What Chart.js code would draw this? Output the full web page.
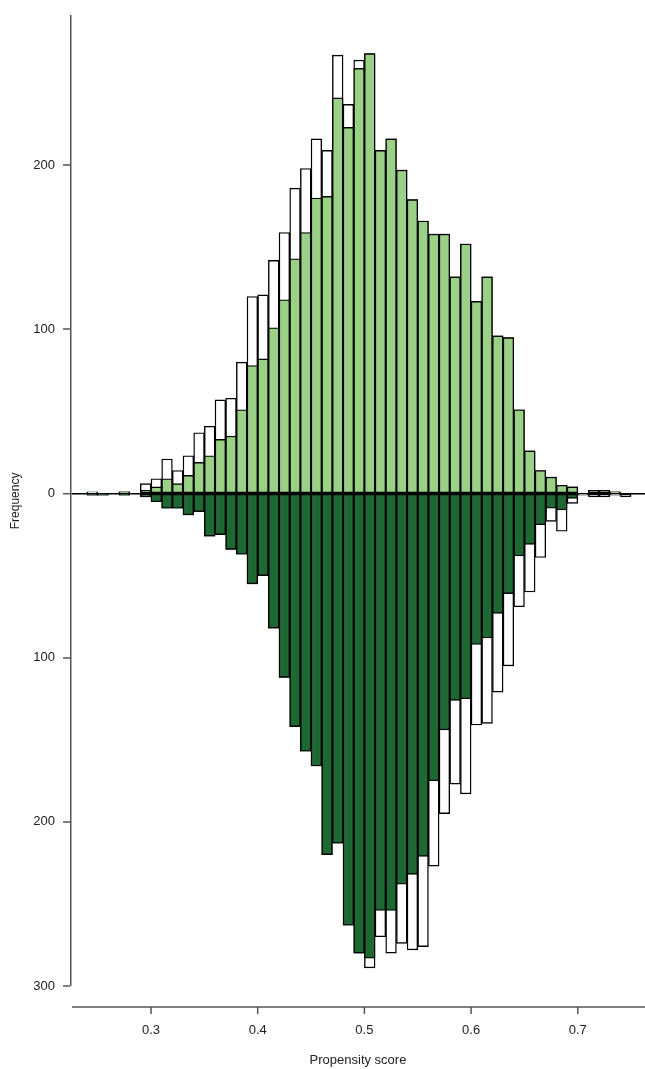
<!DOCTYPE html>
<html>
<head>
<meta charset="utf-8">
<script src="https://cdn.jsdelivr.net/npm/chart.js@4/dist/chart.umd.min.js"></script>
<style>
  html, body { margin: 0; padding: 0; background: #fff; }
  #wrap { width: 645px; height: 1069px; }
</style>
</head>
<body>
<div id="wrap"><canvas id="chart" width="645" height="1069"></canvas></div>
<script>
// bins de 0.01 (borda esquerda)
const binStarts = [
  0.24, 0.25, 0.26, 0.27, 0.28, 0.29, 0.30, 0.31, 0.32, 0.33,
  0.34, 0.35, 0.36, 0.37, 0.38, 0.39, 0.40, 0.41, 0.42, 0.43,
  0.44, 0.45, 0.46, 0.47, 0.48, 0.49, 0.50, 0.51, 0.52, 0.53,
  0.54, 0.55, 0.56, 0.57, 0.58, 0.59, 0.60, 0.61, 0.62, 0.63,
  0.64, 0.65, 0.66, 0.67, 0.68, 0.69, 0.70, 0.71, 0.72, 0.73,
  0.74
];

// metade de cima: todos (branco) e pareados (verde claro)
const topAll = [
  1, 0, 0, 1, 0, 6, 9, 21, 14, 23,
  37, 41, 57, 58, 80, 120, 121, 142, 159, 186,
  198, 216, 209, 267, 237, 264, 268, 209, 216, 197,
  179, 166, 158, 158, 132, 152, 117, 132, 96, 95,
  51, 26, 14, 10, 5, 4, 0, 2, 2, 1,
  0
];
const topMatched = [
  0, 0, 0, 1, 0, 2, 4, 9, 6, 11,
  19, 23, 33, 35, 51, 78, 82, 101, 118, 143,
  159, 180, 181, 241, 223, 259, 268, 209, 216, 197,
  179, 166, 158, 158, 132, 152, 117, 132, 96, 95,
  51, 26, 14, 10, 5, 4, 0, 2, 2, 1,
  0
];

// metade de baixo: pareados (verde escuro) e todos (branco)
const bottomMatched = [
  1, 1, 0, 1, 0, 2, 5, 9, 9, 13,
  11, 26, 25, 34, 37, 55, 50, 82, 112, 142,
  157, 166, 220, 213, 263, 280, 283, 254, 254, 238,
  232, 221, 175, 144, 126, 125, 92, 88, 73, 61,
  38, 31, 19, 9, 10, 3, 0, 0, 0, 0,
  0
];
const bottomAll = [
  1, 1, 0, 1, 0, 2, 5, 9, 9, 13,
  11, 26, 25, 34, 37, 55, 50, 82, 112, 142,
  157, 166, 220, 213, 263, 280, 289, 270, 280, 274,
  278, 276, 227, 195, 177, 183, 141, 140, 121, 105,
  69, 60, 39, 17, 23, 6, 1, 2, 2, 1,
  2
];

const xTicks = [0.3, 0.4, 0.5, 0.6, 0.7];
const yTicks = [-300, -200, -100, 0, 100, 200];

const binWidth = 0.01;
const fontFamily = "'Liberation Sans', Arial, Helvetica, sans-serif";

function toPoints(values, sign) {
  return binStarts.map(function (b, i) {
    return { x: b + binWidth / 2, y: sign * values[i] };
  });
}

function barSet(label, values, sign, fill) {
  return {
    label: label,
    data: toPoints(values, sign),
    backgroundColor: fill,
    borderColor: "#000",
    borderWidth: 1.4,
    borderSkipped: false,
    barPercentage: 1,
    categoryPercentage: 1,
    grouped: false,
  };
}

// eixo x desenhado um pouco abaixo da área do gráfico, como no original
const xAxisLine = {
  id: "xAxisLine",
  afterDraw: function (chart) {
    const ctx = chart.ctx;
    const xs = chart.scales.x;
    const y = chart.chartArea.bottom + 21;
    ctx.save();
    ctx.strokeStyle = "#555";
    ctx.lineWidth = 1.5;
    ctx.beginPath();
    ctx.moveTo(chart.chartArea.left + 1, y);
    ctx.lineTo(chart.width, y);
    xTicks.forEach(function (t) {
      const px = xs.getPixelForValue(t);
      ctx.moveTo(px, y);
      ctx.lineTo(px, y + 7);
    });
    ctx.stroke();
    ctx.restore();
  },
};

new Chart(document.getElementById("chart"), {
  type: "bar",
  data: {
    datasets: [
      barSet("Pareados (cima)", topMatched, 1, "#9bd087"),
      barSet("Pareados (baixo)", bottomMatched, -1, "#1d6833"),
      barSet("Todos (cima)", topAll, 1, "#ffffff"),
      barSet("Todos (baixo)", bottomAll, -1, "#ffffff"),
    ],
  },
  options: {
    responsive: false,
    animation: false,
    layout: { padding: { top: 11, right: 0, bottom: 0, left: 0 } },
    plugins: {
      legend: { display: false },
      tooltip: { enabled: false },
    },
    scales: {
      x: {
        type: "linear",
        min: 0.225,
        max: 0.763,
        offset: false,
        afterBuildTicks: function (scale) {
          scale.ticks = xTicks.map(function (v) { return { value: v }; });
        },
        afterFit: function (scale) {
          scale.height = 83;
        },
        grid: { display: false, drawTicks: false },
        border: { display: false },
        ticks: {
          padding: 37,
          autoSkip: false,
          maxRotation: 0,
          color: "#222",
          font: { family: fontFamily, size: 13 },
          callback: function (v) { return Number(v).toFixed(1); },
        },
        title: {
          display: true,
          text: "Propensity score",
          color: "#222",
          font: { family: fontFamily, size: 13 },
          padding: { top: 0, bottom: 1 },
        },
      },
      y: {
        type: "linear",
        min: -300,
        max: 291,
        z: 1,
        afterBuildTicks: function (scale) {
          scale.ticks = yTicks.map(function (v) { return { value: v }; });
        },
        afterFit: function (scale) {
          scale.width = 71;
        },
        grid: {
          drawTicks: true,
          tickLength: 8,
          tickColor: "#555",
          tickWidth: 1.5,
          color: function (c) {
            return c.tick && c.tick.value === 0 ? "#000" : "rgba(0,0,0,0)";
          },
          lineWidth: function (c) {
            return c.tick && c.tick.value === 0 ? 1.5 : 0;
          },
        },
        border: { display: true, color: "#555", width: 1.5 },
        ticks: {
          padding: 8,
          color: "#222",
          font: { family: fontFamily, size: 13 },
          callback: function (v) { return Math.abs(v); },
        },
        title: {
          display: true,
          text: "Frequency",
          color: "#222",
          font: { family: fontFamily, size: 12 },
          padding: { top: 8, bottom: 0 },
        },
      },
    },
  },
  plugins: [xAxisLine],
});
</script>
</body>
</html>
